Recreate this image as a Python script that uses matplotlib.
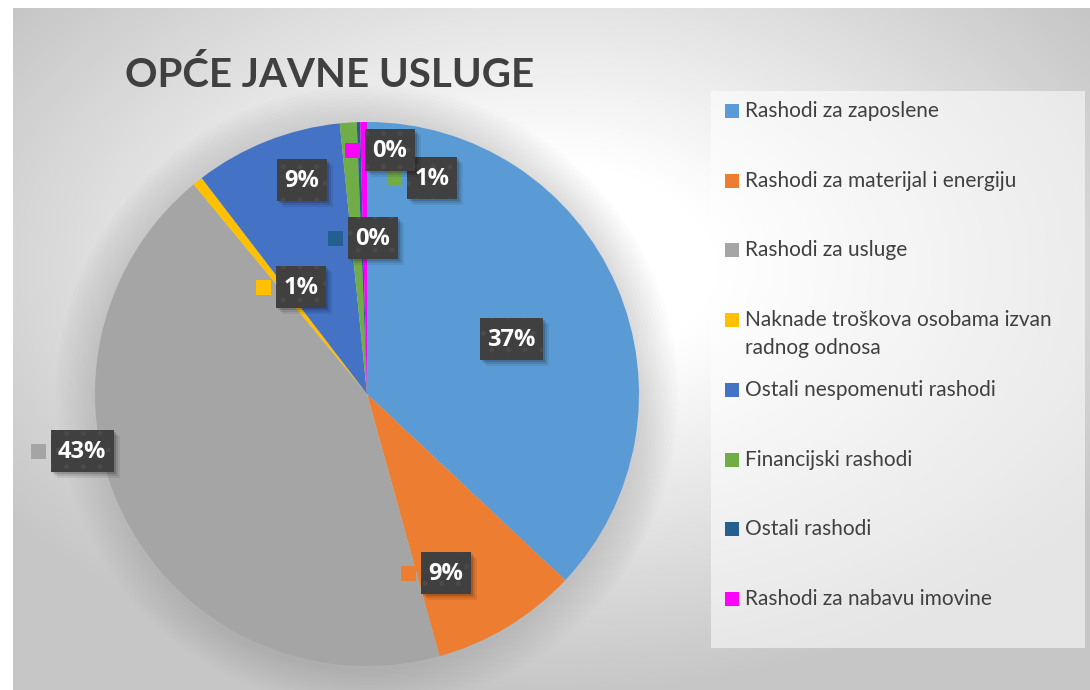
import numpy as np
import matplotlib
matplotlib.use("Agg")
import matplotlib.pyplot as plt
from matplotlib.patches import Rectangle, Circle

# ---------------- data ----------------
title = "OPĆE JAVNE USLUGE"
categories = [
    "Rashodi za zaposlene",
    "Rashodi za materijal i energiju",
    "Rashodi za usluge",
    "Naknade troškova osobama izvan\nradnog odnosa",
    "Ostali nespomenuti rashodi",
    "Financijski rashodi",
    "Ostali rashodi",
    "Rashodi za nabavu imovine",
]
shares = [37.0, 8.7, 43.3, 0.6, 8.8, 1.0, 0.2, 0.4]
colors = ["#5B9BD5", "#ED7D31", "#A5A5A5", "#FFC000",
          "#4472C4", "#70AD47", "#255E91", "#FF00FF"]

# label box centres (pixel layout, x, y from top)
label_pos = [(511, 339), (446, 573), (82, 451), (301, 287),
             (302, 180), (432, 178), (373, 238), (390, 150)]

W, H = 1090, 690
fig = plt.figure(figsize=(W / 100, H / 100), dpi=100)
fig.patch.set_facecolor("white")

# ---------------- background gradient ----------------
x0, y0 = 13, 8
bg = fig.add_axes([x0 / W, 0, 1 - x0 / W, (H - y0) / H])
bg.set_axis_off()
nx, ny = 540, 340
xx, yy = np.meshgrid(np.linspace(0, 1, nx), np.linspace(0, 1, ny))
cx, cy = 0.50, 0.38
t = np.sqrt(((xx - cx) / 0.62) ** 2 + ((yy - cy) / 0.62) ** 2)
t = np.clip((t - 0.25) / 0.75, 0, 1)
c0, c1 = 1.0, 0.78
val = c0 + (c1 - c0) * t
img = np.dstack([val, val, val])
bg.imshow(img, aspect="auto", extent=[0, 1, 1, 0], interpolation="bilinear")
bg.set_xlim(0, 1)
bg.set_ylim(1, 0)

# ---------------- pie ----------------
pcx, pcy, pr = 367, 394, 272
pax = fig.add_axes([(pcx - pr) / W, (H - pcy - pr) / H, 2 * pr / W, 2 * pr / H])
pax.set_axis_off()
# soft shadow / glow around the pie
for k in range(12):
    pax.add_patch(Circle((0.0, -0.01), 1.0 + 0.012 * (12 - k), color="#808080",
                         alpha=0.022, lw=0, clip_on=False, zorder=0))
wedges, _ = pax.pie(shares, colors=colors, startangle=90, counterclock=False,
                    radius=1, wedgeprops=dict(linewidth=0))
for w_ in wedges:
    w_.set_zorder(2)
pax.set_xlim(-1, 1)
pax.set_ylim(-1, 1)

# ---------------- overlay (pixel coords) ----------------
ov = fig.add_axes([0, 0, 1, 1])
ov.set_xlim(0, W)
ov.set_ylim(H, 0)
ov.set_axis_off()
ov.patch.set_alpha(0)

# title
ov.text(125, 75, title, fontsize=29, fontweight="bold", family=["Lato", "DejaVu Sans"],
        color="#404040", ha="left", va="center")

# data labels
plt.rcParams["hatch.linewidth"] = 1.2
bh = 42
for val_, col, (lx, ly) in zip(shares, colors, label_pos):
    txt = f"{round(val_):d}%"
    bw = 50 if len(txt) == 2 else 63
    left, top = lx - bw / 2, ly - bh / 2
    for d, a in [(6, 0.07), (4, 0.1), (2, 0.15)]:
        ov.add_patch(Rectangle((left + d, top + d), bw, bh, fc="black", alpha=a, lw=0))
    ov.add_patch(Rectangle((left, top), bw, bh, fc="#404040", lw=0))
    ov.add_patch(Rectangle((left, top), bw, bh, fill=False, hatch=".", ec="#4A4A4A", lw=0))
    ov.text(lx, ly + 1, txt, fontsize=17, fontweight="bold", color="white",
            family=["Open Sans", "DejaVu Sans"], ha="center", va="center")
    ms = 15
    ov.add_patch(Rectangle((left - 5 - ms, ly - ms / 2), ms, ms, fc=col, lw=0))

# legend
ov.add_patch(Rectangle((711, 91), 1085 - 711, 648 - 91, fc="white", alpha=0.55, lw=0))
y_start, step = 111, 69.7
for i, (lab, col) in enumerate(zip(categories, colors)):
    yc = y_start + i * step
    ov.add_patch(Rectangle((725, yc - 7), 14, 14, fc=col, lw=0))
    for j, line in enumerate(lab.split("\n")):
        ov.text(745, yc + j * 28, line, fontsize=15, family=["Lato", "DejaVu Sans"],
                color="#404040", ha="left", va="center")

fig.savefig("out.png", dpi=100)
